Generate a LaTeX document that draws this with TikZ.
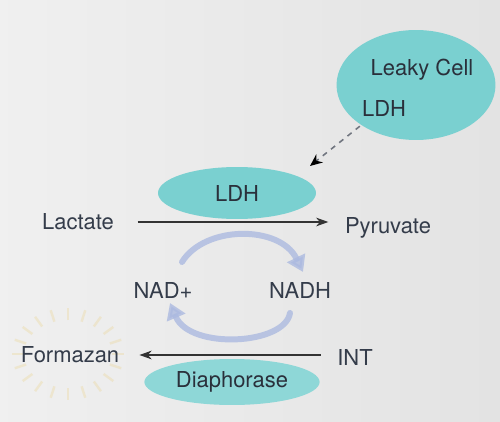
\documentclass[tikz,border=0pt]{standalone}
\usepackage{fontspec}
\setmainfont{TeX Gyre Heros}
\usetikzlibrary{shapes.geometric,arrows.meta,positioning,calc}
\definecolor{cellteal}{RGB}{122,208,208}
\definecolor{labelgray}{RGB}{52,60,74}
\definecolor{cyclblue}{RGB}{172,186,224}
\definecolor{glowyellow}{RGB}{236,214,150}

\begin{document}
\begin{tikzpicture}[x=0.02cm,y=-0.02cm,
    lbl/.style={text=labelgray, font=\fontsize{12.5}{14}\selectfont},
    blob/.style={ellipse, fill=cellteal, draw=none, text=labelgray!80!black,
                 font=\fontsize{12.5}{14}\selectfont},
    rxn/.style={draw=black!80, line width=0.6pt, -{Stealth[length=7pt,width=5pt]}},
    cycle/.style={draw=cyclblue, line width=3.4pt, line cap=round,
                  -{Triangle[length=9pt,width=11pt]}}]
    % background
    \shade[left color=black!6, right color=black!11] (0,0) rectangle (500,422);
    \useasboundingbox (0,0) rectangle (500,422);

    % Leaky cell
    \node[blob, minimum width=3.18cm, minimum height=2.2cm] (cell) at (416,85) {};
    \node[lbl, text=labelgray!80!black] (leaky) at (422,70) {Leaky Cell};
    \node[lbl, text=labelgray!80!black] (cellldh) at (384,108) {LDH};

    % enzymes
    \node[blob, minimum width=3.16cm, minimum height=1.04cm] (ldh) at (237,193) {LDH};
    \node[blob, minimum width=3.02cm, minimum height=0.9cm, fill=cellteal!85] (dia) at (232,382) {Diaphorase};

    % glow behind formazan
    \foreach \a in {0,18,...,342}
        \draw[glowyellow, line width=1.4pt, opacity=0.35]
            ($(68,354)+(\a:44 and 34)$) -- ($(68,354)+(\a:56 and 46)$);

    % substrates
    \node[lbl] (lac) at (78,222) {Lactate};
    \node[lbl] (pyr) at (388,228) {Pyruvate};
    \node[lbl] (nad) at (163,290) {NAD+};
    \node[lbl] (nadh) at (300,290) {NADH};
    \node[lbl] (form) at (70,355) {Formazan};
    \node[lbl] (int) at (355,357) {INT};

    % release of LDH
    \coordinate (leakend) at (310,166);
    \draw[draw=labelgray!70, dashed, line width=0.9pt, -{Stealth[length=7pt,width=6pt,black]}]
        (cellldh.south west) ++(4,4) -- (leakend);

    % reactions
    \draw[rxn] ([xshift=10pt]lac.east) -- ([xshift=-6pt]lac.east -| pyr.west);
    \draw[rxn] ([xshift=-6pt]form.east -| int.west) -- ([xshift=8pt]form.east);

    % cofactor cycle
    \draw[cycle, opacity=0.8] (182,262) .. controls (205,225) and (280,225) .. (303,272);
    \draw[cycle, opacity=0.8] (290,313) .. controls (285,345) and (190,350) .. (170,303);
\end{tikzpicture}
\end{document}
